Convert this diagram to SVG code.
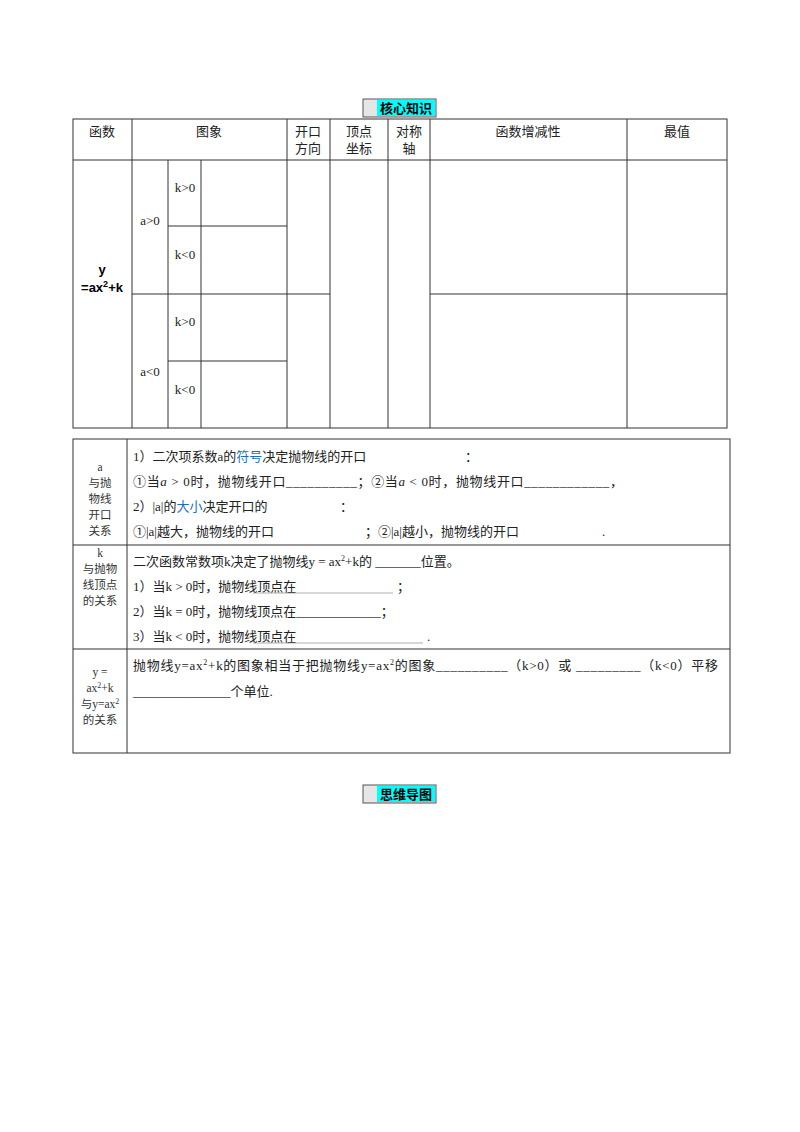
<svg xmlns="http://www.w3.org/2000/svg" width="800" height="1132" viewBox="0 0 800 1132">
<style>
.l{stroke:#333;stroke-width:1;fill:none}
.t{font-family:"Liberation Serif","Noto Sans CJK SC",serif;font-size:13px;fill:#222}
.s{font-family:"Liberation Serif","Noto Sans CJK SC",serif;font-size:11.5px;fill:#333}
.b{font-family:"Liberation Sans","Noto Sans CJK SC",sans-serif;font-size:13px;font-weight:bold;fill:#000}
.c{text-anchor:middle}
.blue{fill:#1a6fc4}
</style>
<rect width="800" height="1132" fill="#fff"/>
<g id="title1">
<rect x="363" y="99" width="73" height="18" fill="#e6e6e6" stroke="#555"/>
<rect x="377" y="100" width="58" height="16" fill="#00ffff"/>
<text x="406" y="113" class="b c">核心知识</text>
</g>
<g id="table1">
<rect x="73" y="119" width="654" height="309" class="l"/>
<path class="l" d="M73 160H727M132 119V428M287 119V428M330 119V428M388 119V428M430 119V428M627 119V428M168 160V428M201 160V428M168 226H287M132 294H330M430 294H727M168 361H287"/>
<text x="102" y="136" class="t c">函数</text>
<text x="209" y="136" class="t c">图象</text>
<text x="308" y="136" class="t c">开口</text><text x="308" y="153" class="t c">方向</text>
<text x="359" y="136" class="t c">顶点</text><text x="359" y="153" class="t c">坐标</text>
<text x="409" y="136" class="t c">对称</text><text x="409" y="153" class="t c">轴</text>
<text x="528" y="136" class="t c">函数增减性</text>
<text x="677" y="136" class="t c">最值</text>
<text x="102" y="274" class="b c">y</text>
<text x="102" y="292" class="b c">=ax<tspan font-size="9" dy="-5">2</tspan><tspan dy="5">+k</tspan></text>
<text x="150" y="225" class="t c">a&gt;0</text>
<text x="150" y="376" class="t c">a&lt;0</text>
<text x="185" y="192" class="t c">k&gt;0</text>
<text x="185" y="259" class="t c">k&lt;0</text>
<text x="185" y="326" class="t c">k&gt;0</text>
<text x="185" y="394" class="t c">k&lt;0</text>
</g>
<g id="table2">
<rect x="73" y="439" width="657" height="314" class="l"/>
<path class="l" d="M127 439V753M73 545H730M73 649H730"/>
<text x="100" y="471" class="s c">a</text>
<text x="100" y="487" class="s c">与抛</text>
<text x="100" y="503" class="s c">物线</text>
<text x="100" y="519" class="s c">开口</text>
<text x="100" y="535" class="s c">关系</text>
<text x="133" y="461" class="t">1）二次项系数a的<tspan class="blue">符号</tspan>决定抛物线的开口</text>
<text x="465" y="461" class="t">：</text>
<text x="133" y="486" class="t" textLength="490">①当<tspan font-style="italic">a</tspan> &gt; 0时，抛物线开口__________；②当<tspan font-style="italic">a</tspan> &lt; 0时，抛物线开口____________，</text>
<text x="133" y="511" class="t">2）|a|的<tspan class="blue">大小</tspan>决定开口的</text>
<text x="340" y="511" class="t">：</text>
<text x="133" y="536" class="t">①|a|越大，抛物线的开口</text>
<text x="365" y="536" class="t">；②|a|越小，抛物线的开口</text>
<text x="602" y="536" class="t">.</text>
<text x="100" y="557" class="s c">k</text>
<text x="100" y="573" class="s c">与抛物</text>
<text x="100" y="589" class="s c">线顶点</text>
<text x="100" y="605" class="s c">的关系</text>
<text x="133" y="566" class="t">二次函数常数项k决定了抛物线y = ax<tspan font-size="8" dy="-5">2</tspan><tspan dy="5">+k的 _______位置。</tspan></text>
<text x="133" y="591" class="t">1）当k &gt; 0时，抛物线顶点在</text>
<path d="M253 593H393" stroke="#999" stroke-width="0.8"/><text x="397" y="591" class="t">；</text>
<text x="133" y="616" class="t">2）当k = 0时，抛物线顶点在_____________；</text>
<text x="133" y="641" class="t">3）当k &lt; 0时，抛物线顶点在</text>
<path d="M253 643H423" stroke="#999" stroke-width="0.8"/><text x="427" y="641" class="t">.</text>
<text x="100" y="676" class="s c">y =</text>
<text x="100" y="692" class="s c">ax<tspan font-size="8" dy="-4">2</tspan><tspan dy="4">+k</tspan></text>
<text x="100" y="708" class="s c">与y=ax<tspan font-size="8" dy="-4">2</tspan></text>
<text x="100" y="724" class="s c">的关系</text>
<text x="133" y="670" class="t" textLength="585">抛物线y=ax<tspan font-size="8" dy="-5">2</tspan><tspan dy="5">+k的图象相当于把抛物线y=ax</tspan><tspan font-size="8" dy="-5">2</tspan><tspan dy="5">的图象__________（k&gt;0）或 _________（k&lt;0）平移</tspan></text>
<text x="133" y="696" class="t">_______________个单位.</text>
</g>
<g id="title2">
<rect x="363" y="785" width="73" height="18" fill="#e6e6e6" stroke="#555"/>
<rect x="377" y="786" width="58" height="16" fill="#00ffff"/>
<text x="406" y="799" class="b c">思维导图</text>
</g>
</svg>
